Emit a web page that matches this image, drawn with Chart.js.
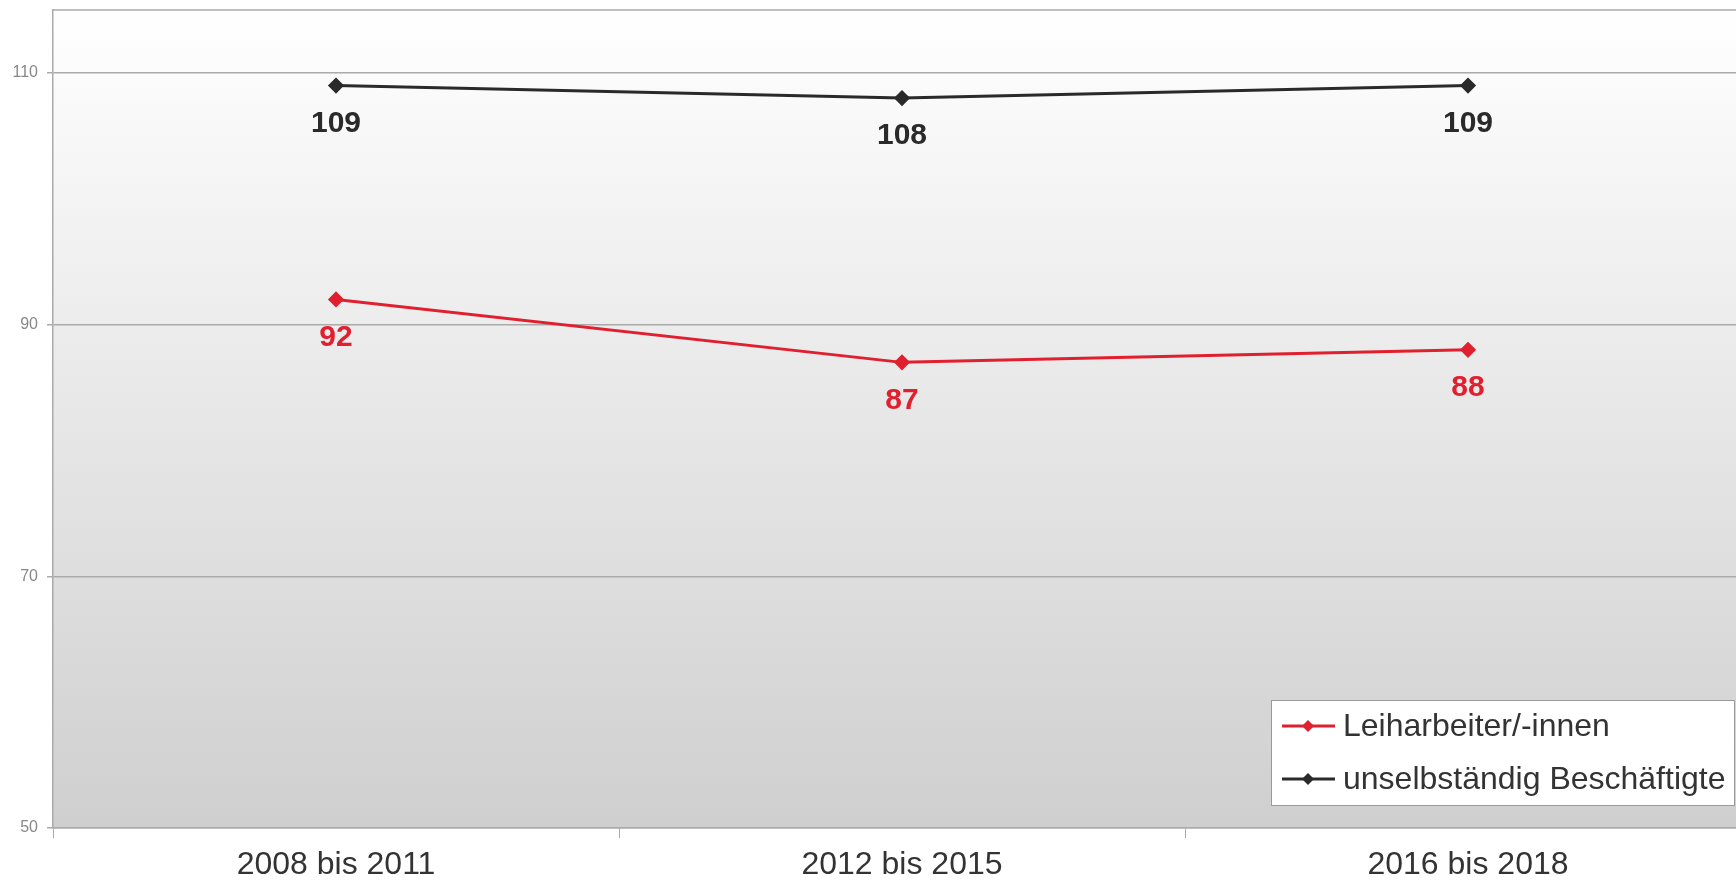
<!DOCTYPE html>
<html>
<head>
<meta charset="utf-8">
<script src="https://cdn.jsdelivr.net/npm/chart.js@4"></script>
<style>
  html, body { margin: 0; padding: 0; background: #fff; overflow: hidden; }
  #wrap { width: 1760px; height: 880px; position: relative; }
</style>
</head>
<body>
<div id="wrap"><canvas id="myChart"></canvas></div>
<script>
// Chart data
const periods = ['2008 bis 2011', '2012 bis 2015', '2016 bis 2018'];
const leiharbeiter = [92, 87, 88];
const unselbstaendig = [109, 108, 109];
const yTicks = [50, 70, 90, 110];

const seriesNames = ['Leiharbeiter/-innen', 'unselbständig Beschäftigte'];
const seriesColors = ['#e0202f', '#2a2a2a'];

const FONT = '"Liberation Sans", Arial, sans-serif';

// grey gradient behind the plot + top border line
const backgroundPlugin = {
  id: 'plotBackground',
  beforeDraw(chart) {
    const { ctx, chartArea: a } = chart;
    const grad = ctx.createLinearGradient(0, a.top, 0, a.bottom);
    grad.addColorStop(0, '#ffffff');
    grad.addColorStop(1, '#cfcfcf');
    ctx.save();
    ctx.fillStyle = grad;
    ctx.fillRect(a.left, a.top, a.right - a.left, a.bottom - a.top);
    ctx.strokeStyle = '#aaaaaa';
    ctx.lineWidth = 1.5;
    ctx.beginPath();
    ctx.moveTo(a.left, a.top);
    ctx.lineTo(a.right, a.top);
    ctx.stroke();
    ctx.restore();
  }
};

// value labels below each point
const valueLabelPlugin = {
  id: 'valueLabels',
  afterDatasetsDraw(chart) {
    const ctx = chart.ctx;
    ctx.save();
    ctx.font = 'bold 30px ' + FONT;
    ctx.textAlign = 'center';
    ctx.textBaseline = 'middle';
    chart.data.datasets.forEach((ds, i) => {
      const meta = chart.getDatasetMeta(i);
      ctx.fillStyle = ds.borderColor;
      meta.data.forEach((pt, j) => {
        ctx.fillText(String(ds.data[j]), pt.x, pt.y + 38);
      });
    });
    ctx.restore();
  }
};

// legend box in the lower right corner
const boxLegendPlugin = {
  id: 'boxLegend',
  afterDraw(chart) {
    const ctx = chart.ctx;
    const x0 = 1271, y0 = 700, w = 463, h = 105;
    ctx.save();
    ctx.fillStyle = '#ffffff';
    ctx.fillRect(x0, y0, w, h);
    ctx.strokeStyle = '#999999';
    ctx.lineWidth = 1;
    ctx.strokeRect(x0 + 0.5, y0 + 0.5, w, h);
    const rows = [726, 779];
    chart.data.datasets.forEach((ds, i) => {
      const y = rows[i];
      ctx.strokeStyle = ds.borderColor;
      ctx.lineWidth = 3;
      ctx.beginPath();
      ctx.moveTo(1282, y);
      ctx.lineTo(1335, y);
      ctx.stroke();
      ctx.fillStyle = ds.borderColor;
      ctx.beginPath();
      ctx.moveTo(1308, y - 6);
      ctx.lineTo(1314, y);
      ctx.lineTo(1308, y + 6);
      ctx.lineTo(1302, y);
      ctx.closePath();
      ctx.fill();
      ctx.fillStyle = '#333333';
      ctx.font = '32px ' + FONT;
      ctx.textAlign = 'left';
      ctx.textBaseline = 'middle';
      ctx.fillText(ds.label, 1343, y + 1);
    });
    ctx.restore();
  }
};

const config = {
  type: 'line',
  data: {
    labels: periods,
    datasets: [
      {
        label: seriesNames[0],
        data: leiharbeiter,
        borderColor: seriesColors[0],
        backgroundColor: seriesColors[0],
        borderWidth: 3,
        pointStyle: 'rectRot',
        pointRadius: 6,
        pointHoverRadius: 6,
        tension: 0
      },
      {
        label: seriesNames[1],
        data: unselbstaendig,
        borderColor: seriesColors[1],
        backgroundColor: seriesColors[1],
        borderWidth: 3,
        pointStyle: 'rectRot',
        pointRadius: 6,
        pointHoverRadius: 6,
        tension: 0
      }
    ]
  },
  options: {
    responsive: true,
    maintainAspectRatio: false,
    animation: { duration: 0 },
    layout: { padding: { top: 10, right: 0, left: 0, bottom: 0 } },
    plugins: {
      legend: { display: false },
      tooltip: { enabled: false }
    },
    scales: {
      x: {
        offset: true,
        grid: {
          offset: true,
          drawOnChartArea: false,
          drawTicks: true,
          tickLength: 10,
          color: '#aaaaaa'
        },
        border: { color: '#aaaaaa', width: 1.5 },
        ticks: {
          color: '#333333',
          font: { family: FONT, size: 32 },
          padding: 8,
          maxRotation: 0
        },
        afterFit(scale) {
          scale.height = 52;
          scale.paddingLeft = 0;
          scale.paddingRight = 0;
        }
      },
      y: {
        min: 50,
        max: 115,
        afterBuildTicks(scale) {
          scale.ticks = yTicks.map(v => ({ value: v }));
        },
        grid: {
          color: '#aaaaaa',
          lineWidth: 1.5,
          tickLength: 6
        },
        border: { color: '#aaaaaa', width: 1.5 },
        ticks: {
          color: '#888888',
          font: { family: FONT, size: 16 },
          padding: 9
        },
        afterFit(scale) {
          scale.width = 53;
          scale.paddingTop = 0;
          scale.paddingBottom = 0;
        }
      }
    }
  },
  plugins: [backgroundPlugin, valueLabelPlugin, boxLegendPlugin]
};

new Chart(document.getElementById('myChart').getContext('2d'), config);
</script>
</body>
</html>
